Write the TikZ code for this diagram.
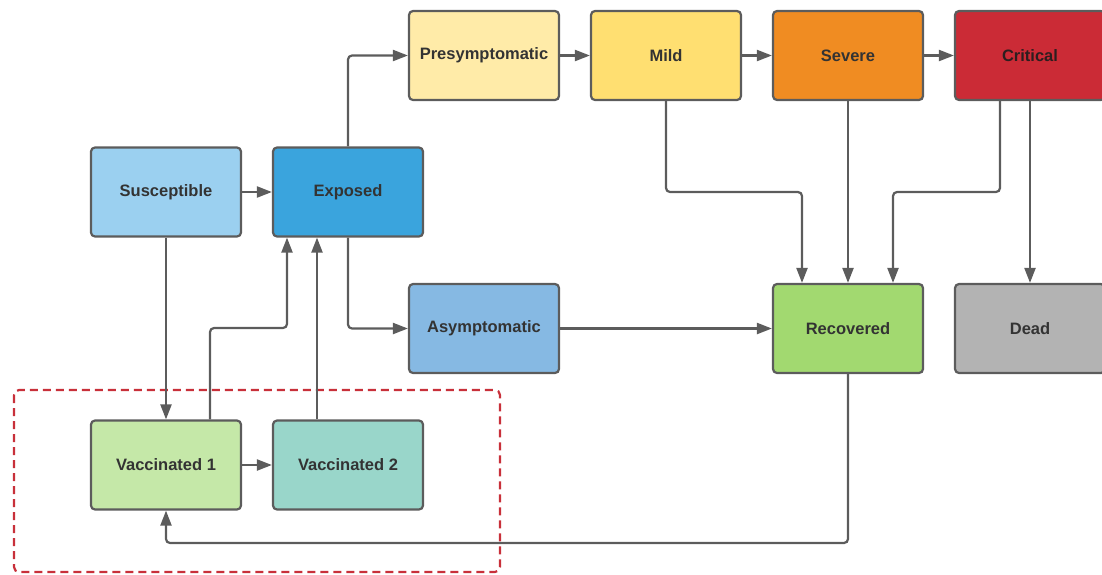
\documentclass[tikz,border=0pt]{standalone}
\usepackage{fontspec}
\setmainfont{Liberation Sans}
\usetikzlibrary{arrows.meta,calc}
\definecolor{cpre}{HTML}{FFEBA8}
\definecolor{cmild}{HTML}{FFDF71}
\definecolor{csev}{HTML}{F08C22}
\definecolor{ccrit}{HTML}{CB2B36}
\definecolor{csus}{HTML}{9BD0F0}
\definecolor{cexp}{HTML}{3AA4DD}
\definecolor{casy}{HTML}{86B9E3}
\definecolor{crec}{HTML}{A2D970}
\definecolor{cdead}{HTML}{B3B3B3}
\definecolor{cvac1}{HTML}{C5E8A8}
\definecolor{cvac2}{HTML}{99D6CA}
\definecolor{cline}{HTML}{5C5C5C}
\definecolor{ctext}{HTML}{333333}
\definecolor{cdash}{HTML}{C8303A}
\tikzset{
  box/.style={draw=cline, line width=2.2pt, rounded corners=4pt, minimum width=150pt, minimum height=89pt,
    font=\fontsize{16.5}{20}\selectfont\bfseries, text=ctext, inner sep=0pt},
  conn/.style={draw=cline, line width=2.2pt, rounded corners=4pt, -{Triangle[length=15pt,width=11pt]}},
}
\begin{document}
\begin{tikzpicture}[x=1pt,y=-1pt]
\useasboundingbox (0,0) rectangle (1102,574);
\begin{scope}
\clip (0,0) rectangle (1102,574);
\node[box, fill=cpre] (pre) at (484,55.5) {Presymptomatic};
\node[box, fill=cmild] (mild) at (666,55.5) {Mild};
\node[box, fill=csev] (sev) at (848,55.5) {Severe};
\node[box, fill=ccrit, text=ctext!85!ccrit!60!black] (crit) at (1030,55.5) {Critical};
\node[box, fill=csus] (sus) at (166,192) {Susceptible};
\node[box, fill=cexp] (exp) at (348,192) {Exposed};
\node[box, fill=casy] (asy) at (484,328.5) {Asymptomatic};
\node[box, fill=crec] (rec) at (848,328.5) {Recovered};
\node[box, fill=cdead] (dead) at (1030,328.5) {Dead};
\node[box, fill=cvac1] (vac1) at (166,465) {Vaccinated 1};
\node[box, fill=cvac2] (vac2) at (348,465) {Vaccinated 2};

\draw[draw=cdash, line width=2.2pt, dash pattern=on 8pt off 5pt, rounded corners=5pt] (14,390) rectangle (500,572);

\draw[conn] (sus) -- (exp);
\draw[conn] (exp.north) |- (pre.west);
\draw[conn] (pre) -- (mild);
\draw[conn] (mild) -- (sev);
\draw[conn] (sev) -- (crit);
\draw[conn] (exp.south) |- (asy.west);
\draw[conn] (asy) -- (rec);
\coordinate (mid) at (0,192);
\draw[conn] (mild.south) -- (mild.south |- mid) -| ([xshift=-46pt]rec.north);
\draw[conn] (sev.south) -- (rec.north);
\draw[conn] ([xshift=-30pt]crit.south) -- ([xshift=-30pt]crit.south |- mid) -| ([xshift=45pt]rec.north);
\draw[conn] (crit.south) -- (dead.north);
\draw[conn] (sus.south) -- (vac1.north);
\coordinate (lvl) at (0,328);
\draw[conn] ([xshift=44pt]vac1.north) -- ([xshift=44pt]vac1.north |- lvl) -| ([xshift=-61pt]exp.south);
\draw[conn] ([xshift=-31pt]vac2.north) -- ([xshift=-31pt]exp.south);
\draw[conn] (vac1) -- (vac2);
\coordinate (bot) at (0,543);
\draw[conn] (rec.south) -- (rec.south |- bot) -| (vac1.south);
\end{scope}
\end{tikzpicture}
\end{document}
